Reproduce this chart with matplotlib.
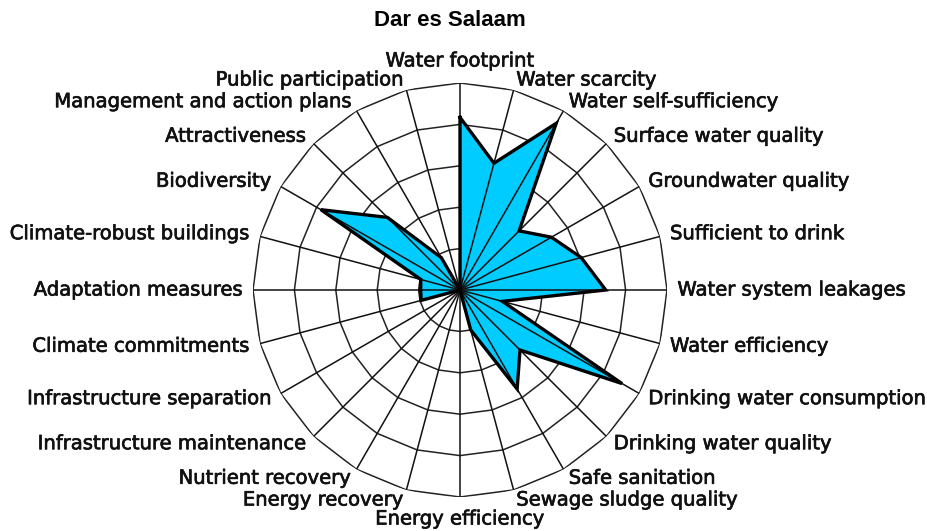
import numpy as np
import matplotlib
matplotlib.use("Agg")
import matplotlib.pyplot as plt
import matplotlib.patheffects as pe

title = "Dar es Salaam"
categories = [
    "Water footprint", "Water scarcity", "Water self-sufficiency",
    "Surface water quality", "Groundwater quality", "Sufficient to drink",
    "Water system leakages", "Water efficiency", "Drinking water consumption",
    "Drinking water quality", "Safe sanitation", "Sewage sludge quality",
    "Energy efficiency", "Energy recovery", "Nutrient recovery",
    "Infrastructure maintenance", "Infrastructure separation",
    "Climate commitments", "Adaptation measures", "Climate-robust buildings",
    "Biodiversity", "Attractiveness", "Management and action plans",
    "Public participation",
]
values = [4.17, 3.17, 4.65, 2.02, 2.55, 3.03, 3.52, 1.06, 4.52, 2.05, 2.76, 1.0,
          0.0, 0.0, 0.0, 0.0, 0.0, 0.97, 0.95, 0.98, 3.88, 2.48, 0.9, 0.0]
rings = [1, 2, 3, 4, 5]
rmax = 5

W, H = 928, 531
fig = plt.figure(figsize=(W / 100, H / 100), dpi=100)
cx, cy, R = 460, 290, 207
ax = fig.add_axes([(cx - R) / W, (H - cy - R) / H, 2 * R / W, 2 * R / H],
                  projection="polar")
ax.set_theta_zero_location("N")
ax.set_theta_direction(-1)
ax.set_ylim(0, rmax)
ax.grid(False)
ax.set_xticks([])
ax.set_yticks([])
ax.spines["polar"].set_visible(False)
ax.patch.set_visible(False)

n = len(categories)
angles = np.arange(n) * 2 * np.pi / n
ang_c = np.append(angles, angles[0])

for r in rings:
    ax.plot(ang_c, [r] * (n + 1), color="#222222", lw=1.1, zorder=1)

vals_c = np.append(values, values[0])
ax.fill(ang_c, vals_c, color="#00CCFF", zorder=2, lw=0)

for a in angles:
    ax.plot([a, a], [0, rmax], color="#111111", lw=1.1, zorder=3)

ax.plot(ang_c, vals_c, color="black", lw=2.4, zorder=4, solid_joinstyle="miter")

fs = 14.1
stroke = [pe.withStroke(linewidth=0.5, foreground="#111111")]
for a, lab in zip(angles, categories):
    s, c = np.sin(a), np.cos(a)
    if abs(s) < 0.01:
        ha = "center"
        va = "bottom" if c > 0 else "top"
        off = (0, 9 * c)
    else:
        ha = "left" if s > 0 else "right"
        va = "center"
        off = (7.5 * s, 7.5 * c)
    ax.annotate(lab, xy=(a, rmax), xytext=off, textcoords="offset points",
                ha=ha, va=va, fontsize=fs, family="DejaVu Sans", color="#111111",
                annotation_clip=False, path_effects=stroke)

fig.text(450 / W, 1 - 20 / H, title, ha="center", va="center",
         fontsize=16, fontweight="bold", family="Liberation Sans")

fig.savefig("out.png", dpi=100)
